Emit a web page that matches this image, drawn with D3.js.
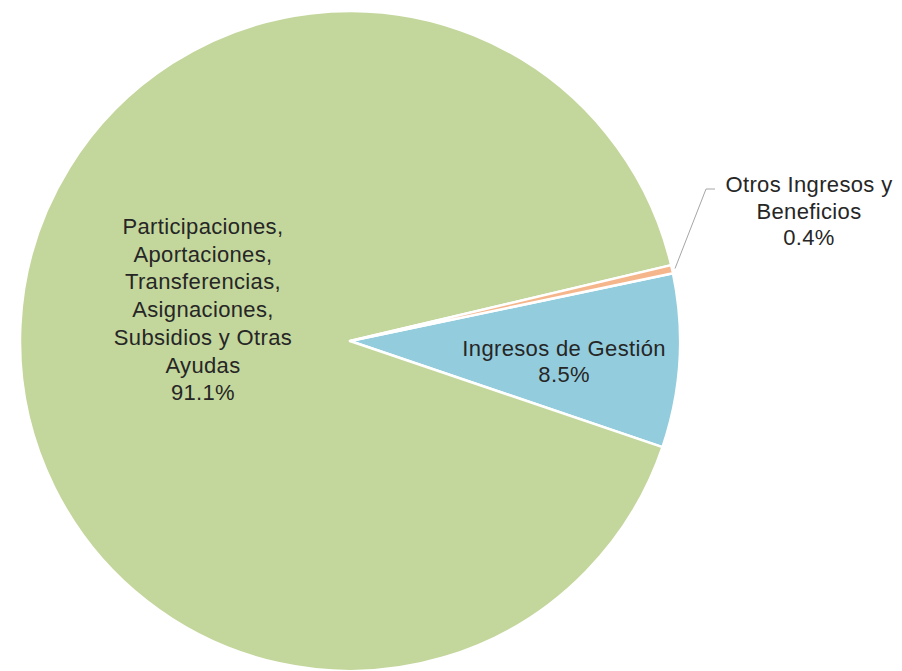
<!DOCTYPE html>
<html>
<head>
<meta charset="utf-8">
<script src="https://cdn.jsdelivr.net/npm/d3@7"></script>
<style>
  html, body { margin: 0; padding: 0; background: #ffffff; }
  svg { display: block; }
</style>
</head>
<body>
<svg id="chart" width="902" height="671"></svg>
<script>
// ---- data ----
const categories = ["Ingresos de Gestión", "Participaciones, Aportaciones, Transferencias, Asignaciones, Subsidios y Otras Ayudas", "Otros Ingresos y Beneficios"];
const values = [8.5, 91.1, 0.4];
const labelLines = [
  ["Ingresos de Gestión"],
  ["Participaciones,", "Aportaciones,", "Transferencias,", "Asignaciones,", "Subsidios y Otras", "Ayudas"],
  ["Otros Ingresos y", "Beneficios"]
];
const valueLabels = ["8.5%", "91.1%", "0.4%"];
const colors = ["#93CDDD", "#C3D69B", "#F6B68C"];

// ---- layout ----
const W = 902, H = 671;
const cx = 350, cy = 341, R = 330;
const startDeg = 78.15;

const svg = d3.select("#chart");
const g = svg.append("g").attr("transform", `translate(${cx},${cy})`);

const pie = d3.pie().sort(null).value(d => d)
  .startAngle(startDeg * Math.PI / 180)
  .endAngle(startDeg * Math.PI / 180 + 2 * Math.PI);
const arcs = pie(values);
const arc = d3.arc().innerRadius(0).outerRadius(R);

g.selectAll("path.slice").data(arcs).enter().append("path")
  .attr("class", "slice")
  .attr("d", arc)
  .attr("fill", (d, i) => colors[i])
  .attr("stroke", "#ffffff")
  .attr("stroke-width", 2.5)
  .attr("stroke-linejoin", "round");

const lineHeights = [26, 27.7, 26.5];
const fontSize = 22;

function midAngle(d) { return (d.startAngle + d.endAngle) / 2; }

arcs.forEach((d, i) => {
  const lines = labelLines[i].concat([valueLabels[i]]);
  let x, yFirst;
  if (i === 0) {
    const c = d3.arc().innerRadius(R * 0.65).outerRadius(R * 0.65).centroid(d);
    x = c[0];
    yFirst = c[1] + 2;
  } else if (i === 1) {
    const c = d3.arc().innerRadius(R * 0.44).outerRadius(R * 0.44).centroid(d);
    x = c[0] - 2;
    yFirst = c[1] - 100;
  } else {
    // leader line for small slice
    const a = midAngle(d);
    const p0 = [Math.sin(a) * (R + 3), -Math.cos(a) * (R + 3)];
    const p1 = [p0[0] + 31, -152];
    const p2 = [p1[0] + 9, p1[1]];
    g.append("polyline")
      .attr("points", [p0, p1, p2].map(p => p.join(",")).join(" "))
      .attr("fill", "none")
      .attr("stroke", "#A6A6A6")
      .attr("stroke-width", 1);
    x = p2[0] + 94;
    yFirst = p2[1] + 3;
  }
  const t = g.append("text")
    .attr("text-anchor", "middle")
    .attr("font-family", "'Liberation Sans', Arial, sans-serif")
    .attr("font-size", fontSize)
    .attr("letter-spacing", "0.35px")
    .attr("fill", "#262626");
  lines.forEach((ln, k) => {
    t.append("tspan")
      .attr("x", x)
      .attr("y", yFirst + k * lineHeights[i])
      .text(ln);
  });
});
</script>
</body>
</html>
